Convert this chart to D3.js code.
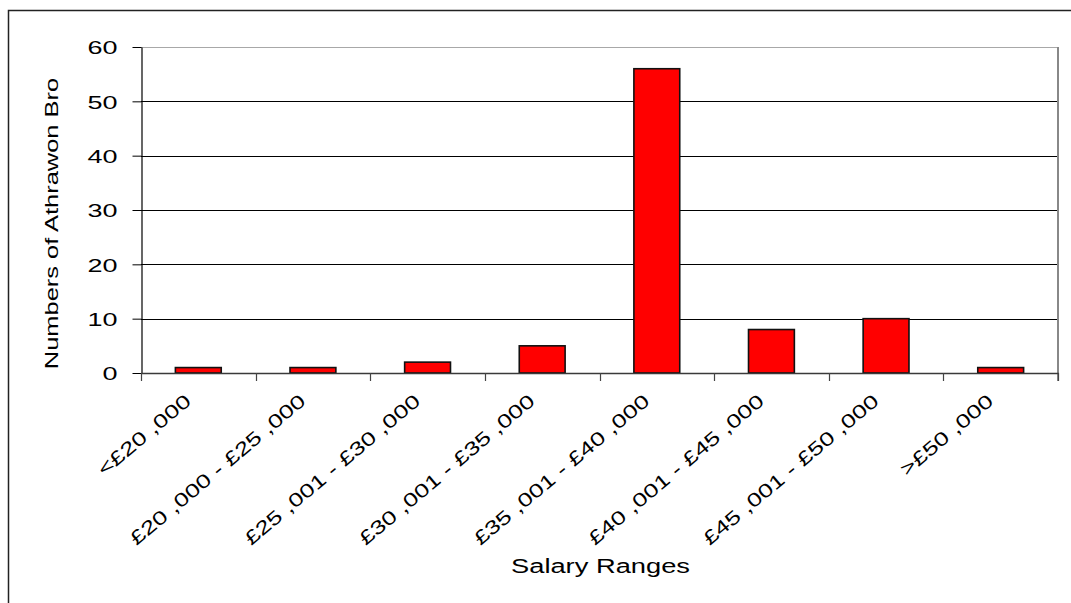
<!DOCTYPE html>
<html>
<head>
<meta charset="utf-8">
<script src="https://cdn.jsdelivr.net/npm/d3@7"></script>
<style>
  html, body { margin: 0; padding: 0; background: #fff; }
  svg { display: block; font-family: "Liberation Sans", Arial, sans-serif; }
</style>
</head>
<body>
<svg id="chart" width="1071" height="603"></svg>
<script>
const categories = ["<£20 ,000", "£20 ,000 - £25 ,000", "£25 ,001 - £30 ,000", "£30 ,001 - £35 ,000",
                    "£35 ,001 - £40 ,000", "£40 ,001 - £45 ,000", "£45 ,001 - £50 ,000", ">£50 ,000"];
const values = [1, 1, 2, 5, 56, 8, 10, 1];
const yTicks = [0, 10, 20, 30, 40, 50, 60];
const xTitle = "Salary Ranges";
const yTitle = "Numbers of Athrawon Bro";

const svg = d3.select("#chart");
const plot = { left: 141, top: 47, right: 1058, bottom: 373 };

// outer frame (only left and top visible in reference)
svg.append("rect").attr("x", 8.5).attr("y", 10.5).attr("width", 1200).attr("height", 800)
  .attr("fill", "#fff").attr("stroke", "#222").attr("stroke-width", 1.5);

const x = d3.scaleBand().domain(categories).range([plot.left, plot.right]).paddingInner(0).paddingOuter(0);
const y = d3.scaleLinear().domain([0, 60]).range([plot.bottom, plot.top]);

// gridlines
svg.append("g").selectAll("line").data(yTicks.filter(d => d > 0 && d < 60)).join("line")
  .attr("x1", plot.left).attr("x2", plot.right)
  .attr("y1", d => Math.round(y(d)) + 0.5).attr("y2", d => Math.round(y(d)) + 0.5)
  .attr("stroke", "#000").attr("stroke-width", 1);

// plot border top and right (gray)
svg.append("line").attr("x1", plot.left).attr("x2", plot.right).attr("y1", plot.top + 0.5).attr("y2", plot.top + 0.5)
  .attr("stroke", "#a8a8a8").attr("stroke-width", 1.2);
svg.append("line").attr("x1", plot.right).attr("x2", plot.right).attr("y1", plot.top).attr("y2", plot.bottom + 8)
  .attr("stroke", "#888").attr("stroke-width", 2);

// bars
const barW = x.bandwidth() * 0.4;
svg.append("g").selectAll("rect").data(values).join("rect")
  .attr("x", (d, i) => x(categories[i]) + (x.bandwidth() - barW) / 2)
  .attr("y", d => y(d))
  .attr("width", barW)
  .attr("height", d => y(0) - y(d))
  .attr("fill", "#ff0000")
  .attr("stroke", "#111")
  .attr("stroke-width", 1.6);

// y axis
const yAxis = svg.append("g").attr("transform", `translate(${plot.left + 0.5},0)`)
  .call(d3.axisLeft(y).tickValues(yTicks).tickSize(9).tickSizeOuter(0).tickFormat(d3.format("d")));
yAxis.select(".domain").attr("stroke", "#000").attr("stroke-width", 1.2);
yAxis.selectAll(".tick line").attr("stroke", "#000");
yAxis.selectAll(".tick text")
  .attr("x", null)
  .attr("dy", "0.36em")
  .attr("transform", "translate(-24,0) scale(1.42,1)")
  .attr("font-size", 19)
  .attr("font-family", "'Liberation Sans', Arial, sans-serif")
  .attr("fill", "#000");

// x axis (ticks at category boundaries)
const xAxisG = svg.append("g");
xAxisG.append("line").attr("x1", plot.left).attr("x2", plot.right + 1)
  .attr("y1", plot.bottom + 0.5).attr("y2", plot.bottom + 0.5)
  .attr("stroke", "#3a3a3a").attr("stroke-width", 1.4);
const boundaries = categories.map(c => x(c)).concat([plot.right]);
xAxisG.selectAll("line.tk").data(boundaries).join("line").attr("class", "tk")
  .attr("x1", d => Math.round(d) + 0.5).attr("x2", d => Math.round(d) + 0.5)
  .attr("y1", plot.bottom).attr("y2", plot.bottom + 8)
  .attr("stroke", "#444").attr("stroke-width", 1.2);

// x labels
svg.append("g").selectAll("text").data(categories).join("text")
  .attr("transform", d => `translate(${x(d) + x.bandwidth() / 2 - 6},403) rotate(-40) scale(1.35,1)`)
  .attr("text-anchor", "end")
  .attr("font-size", 19)
  .attr("fill", "#000")
  .text(d => d);

// axis titles
svg.append("text")
  .attr("transform", `translate(${(plot.left + plot.right) / 2 + 1},573) scale(1.3,1)`)
  .attr("text-anchor", "middle").attr("font-size", 21).attr("fill", "#000")
  .text(xTitle);

svg.append("text")
  .attr("transform", "translate(58,223.5) rotate(-90) scale(1.34,1)")
  .attr("text-anchor", "middle").attr("font-size", 19).attr("fill", "#000")
  .text(yTitle);
</script>
</body>
</html>
